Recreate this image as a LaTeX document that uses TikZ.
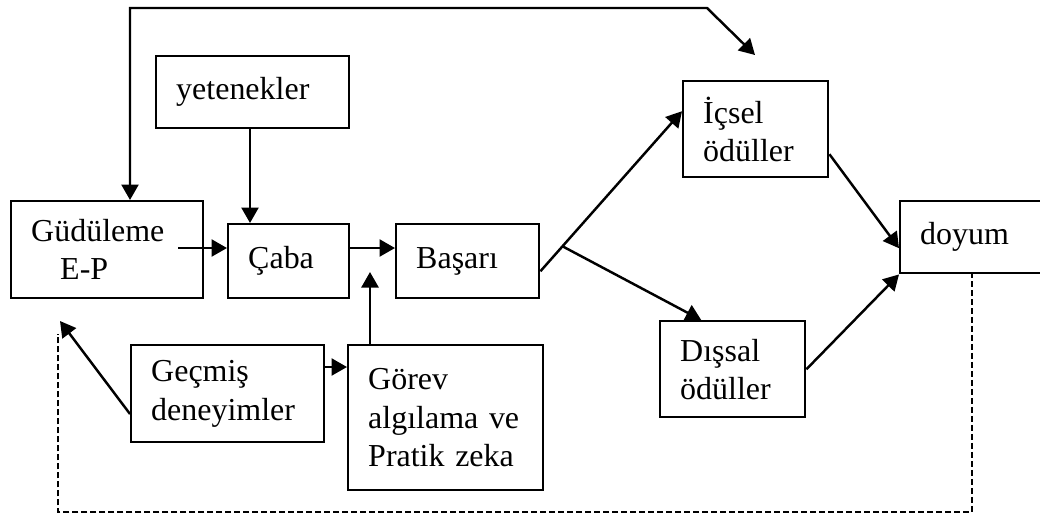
\documentclass[tikz,border=0pt]{standalone}
\usepackage{fontspec}
\setmainfont{Liberation Serif}
\usepackage{tikz}
\usetikzlibrary{arrows.meta, positioning}

\begin{document}
\begin{tikzpicture}[
            x=0.02cm, y=-0.02cm,
            >={Triangle[width=0.34cm,length=0.31cm]},
                box/.style = {rectangle, draw=black, line width=1.4pt,
                            anchor=north west, inner xsep=0.4cm, inner ysep=0pt,
                            align=left, font=\fontsize{18.2}{21.8}\selectfont},
                line/.style = {line width=1.4pt},
                feedback/.style = {line width=1.1pt, dash pattern=on 0.12cm off 0.06cm}]
            \useasboundingbox (0,0) rectangle (1040,518);
            \node (gudu) [box, text width=3.04cm, minimum height=1.94cm] at (10,200) {
                G\"ud\"uleme \\
                \hspace*{0.58cm}E-P
            };
            \node (yet) [box, text width=3.06cm, minimum height=1.44cm] at (155,55) {
                yetenekler
            };
            \node (caba) [box, text width=1.62cm, minimum height=1.48cm] at (227,223) {
                \c{C}aba
            };
            \node (basari) [box, text width=2.06cm, minimum height=1.48cm] at (395,223) {
                Ba\c{s}ar\i
            };
            \node (icsel) [box, text width=2.1cm, minimum height=1.92cm] at (682,80) {
                \.I\c{c}sel \\
                \"od\"uller
            };
            \node (doyum) [box, text width=2.3cm, minimum height=1.44cm] at (899,200) {
                doyum
            };
            \node (disal) [box, text width=2.1cm, minimum height=1.92cm] at (659,320) {
                D\i\c{s}sal \\
                \"od\"uller
            };
            \node (gecmis) [box, text width=3.06cm, minimum height=1.94cm] at (130,344) {
                Ge\c{c}mi\c{s} \\
                deneyimler
            };
            \node (gorev) [box, text width=3.1cm, minimum height=2.9cm] at (347,344) {
                G\"orev \\
                alg\i lama ve \\
                Pratik zeka
            };
            \coordinate (topL) at (130,8);
            \coordinate (topR) at (707,8);
            \coordinate (topTip) at (755,55);
            \coordinate (gStart) at (178,248);
            \coordinate (gTip) at (370,272);
            \coordinate (gcStart) at (130,414);
            \coordinate (gdTip) at (60,321);
            \coordinate (bJoin) at (562,246);
            \coordinate (dStart) at (972,272);
            \coordinate (dCorner) at (58,512);
            \coordinate (dEnd) at (58,334);
            \draw[line, <->] (gudu.north -| topL) -- (topL) -- (topR) -- (topTip);
            \draw[line, ->] (yet.south -| 250,0) -- (caba.north -| 250,0);
            \draw[line, ->] (gStart) -- (caba.west |- gStart);
            \draw[line, ->] (caba.east |- gStart) -- (basari.west |- gStart);
            \draw[line, ->] (gorev.north -| gTip) -- (gTip);
            \draw[line, ->] (gecmis.east |- 0,367) -- (gorev.west |- 0,367);
            \draw[line, ->] (gcStart) -- (gdTip);
            \draw[line, ->] ([yshift=-0.2cm]basari.east) -- ([yshift=0.36cm]icsel.west);
            \draw[line, ->] (bJoin) -- ([xshift=-0.63cm]disal.north);
            \draw[line, ->] ([yshift=-0.5cm]icsel.east) -- ([yshift=-0.22cm]doyum.west);
            \draw[line, ->] (disal.east) -- (doyum.south west);
            \draw[feedback] (dStart) |- (dCorner) -- (dEnd);
        \end{tikzpicture}
\end{document}
